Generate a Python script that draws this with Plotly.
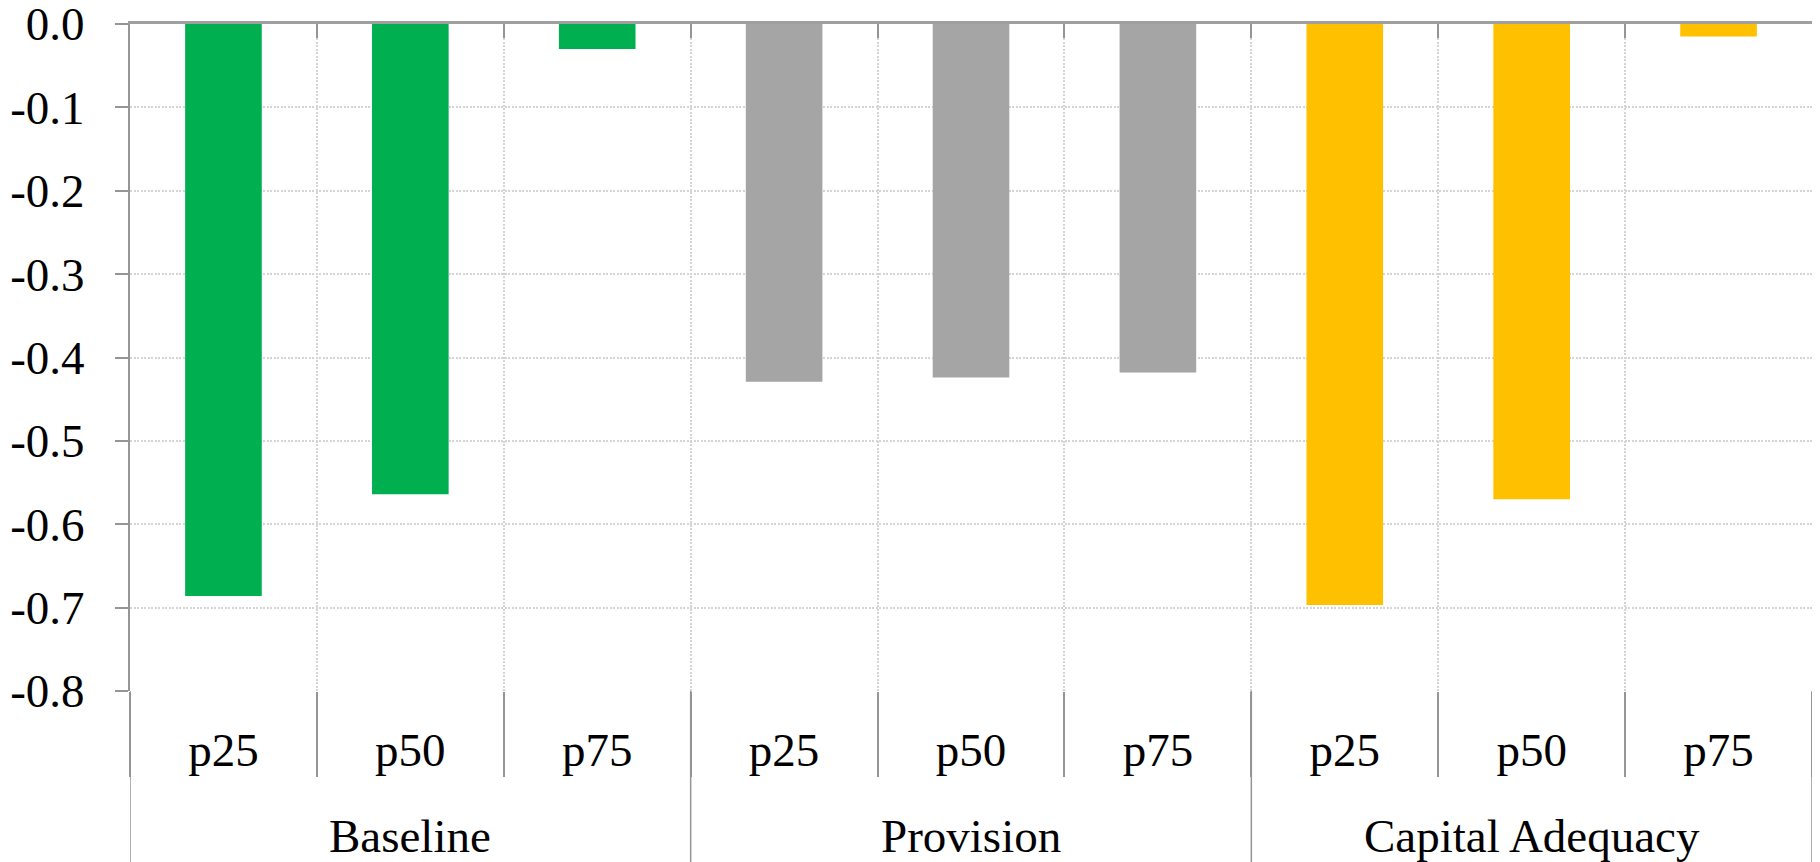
import plotly.graph_objects as go

# ---- data ----
groups = ["Baseline", "Provision", "Capital Adequacy"]
percentiles = ["p25", "p50", "p75"]
baseline = [-0.686, -0.564, -0.030]
provision = [-0.429, -0.424, -0.418]
capital_adequacy = [-0.697, -0.570, -0.015]
colors = ["#00B050", "#A5A5A5", "#FFC000"]
y_ticks = [0.0, -0.1, -0.2, -0.3, -0.4, -0.5, -0.6, -0.7, -0.8]

series = [baseline, provision, capital_adequacy]
n_per = len(percentiles)
n_all = n_per * len(groups)
positions = list(range(n_all))
boundaries = [i - 0.5 for i in range(n_all + 1)]
group_bounds = [g * n_per - 0.5 for g in range(len(groups) + 1)]

FONT = "Liberation Serif, Times New Roman, serif"
AXIS_GREY = "#959595"
GRID = "#d4d4d4"

fig = go.Figure()
for gi, (name, vals) in enumerate(zip(groups, series)):
    fig.add_trace(go.Bar(
        x=positions[gi * n_per:(gi + 1) * n_per],
        y=vals,
        name=name,
        marker=dict(color=colors[gi], line=dict(width=0)),
        width=0.41,
        showlegend=False,
    ))

# empty helper trace so that the top (category) axis line is drawn
fig.add_trace(go.Scatter(x=[], y=[], xaxis="x2", yaxis="y",
                         showlegend=False, hoverinfo="skip"))

# the page body has an 8px default margin, so the figure is 8px smaller
fig.update_layout(
    width=1812, height=854,
    margin=dict(l=122, r=8, t=16, b=171),
    paper_bgcolor="white", plot_bgcolor="white",
    barmode="overlay",
    font=dict(family=FONT, size=47, color="black"),
    xaxis=dict(
        type="linear",
        automargin=False,
        range=[-0.5, n_all - 0.5],
        tickmode="array",
        tickvals=positions,
        ticktext=percentiles * len(groups),
        ticks="",
        showgrid=False,
        showline=False,
        zeroline=False,
        tickfont=dict(family=FONT, size=47, color="black"),
        ticklabelstandoff=27,
        minor=dict(
            tickmode="array",
            tickvals=boundaries,
            ticks="outside",
            ticklen=85,
            tickwidth=1.5,
            tickcolor=AXIS_GREY,
            showgrid=True,
            gridcolor=GRID,
            gridwidth=1.5,
            griddash="2px,1.5px",
        ),
    ),
    xaxis2=dict(
        type="linear",
        automargin=False,
        overlaying="x",
        anchor="y",
        side="top",
        range=[-0.5, n_all - 0.5],
        tickmode="array",
        tickvals=boundaries,
        ticks="inside",
        ticklen=14,
        tickwidth=2,
        tickcolor=AXIS_GREY,
        showticklabels=False,
        showgrid=False,
        zeroline=False,
        showline=True,
        linecolor="#a0a0a0",
        linewidth=3,
    ),
    yaxis=dict(
        automargin=False,
        range=[-0.8, 0],
        tickmode="array",
        tickvals=y_ticks,
        ticktext=[f"{v:.1f}" for v in y_ticks],
        ticks="outside",
        ticklen=13,
        tickwidth=2,
        tickcolor=AXIS_GREY,
        showline=True,
        linecolor=AXIS_GREY,
        linewidth=2,
        showgrid=True,
        gridcolor=GRID,
        gridwidth=1.5,
        griddash="2px,1.5px",
        zeroline=False,
        tickfont=dict(family=FONT, size=47, color="black"),
        ticklabelstandoff=21,
        ticklabeloverflow="allow",
    ),
)

# group dividers below the plot area
for xb in group_bounds:
    fig.add_shape(type="line", xref="x", yref="paper",
                  x0=xb, x1=xb, y0=0, y1=-0.3,
                  line=dict(color=AXIS_GREY, width=1.5), layer="above")

# group labels
for gi, name in enumerate(groups):
    fig.add_annotation(x=gi * n_per + (n_per - 1) / 2, xref="x",
                       y=0, yref="paper", yanchor="middle", yshift=-145,
                       text=name, showarrow=False,
                       font=dict(family=FONT, size=47, color="black"))

fig.write_html("out.html")
